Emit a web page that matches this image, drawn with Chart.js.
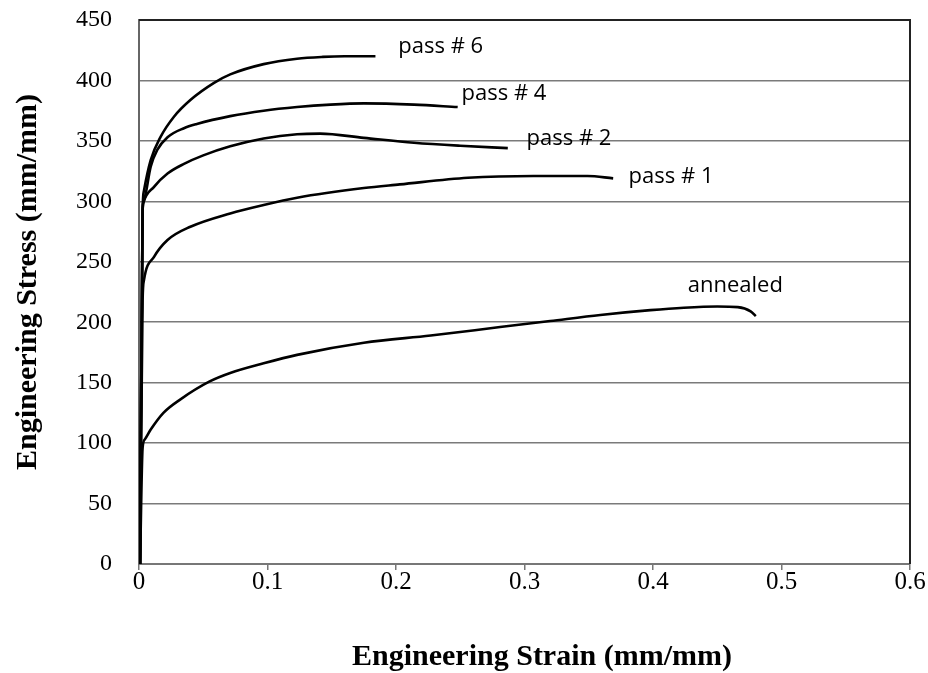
<!DOCTYPE html>
<html>
<head>
<meta charset="utf-8">
<script src="https://cdn.jsdelivr.net/npm/chart.js@4/dist/chart.umd.min.js"></script>
<style>
  html, body { margin: 0; padding: 0; background: #fff; }
  #wrap { width: 928px; height: 673px; }
</style>
</head>
<body>
<div id="wrap"><canvas id="chart"></canvas></div>
<script>
// strain (mm/mm) and stress values
const annealedStrain = [0.0008, 0.0028, 0.0045, 0.009, 0.019, 0.032, 0.055, 0.071, 0.097, 0.123, 0.175, 0.227, 0.281, 0.320, 0.359, 0.398, 0.424, 0.450, 0.466, 0.476, 0.480];
const annealedStress = [0, 96, 103, 111, 125, 136, 151, 158, 166, 173, 183, 189, 196, 201, 206, 210, 212, 213, 212.5, 209, 205];

const pass1Strain = [0.0008, 0.0028, 0.0039, 0.0117, 0.0222, 0.040, 0.071, 0.097, 0.123, 0.175, 0.203, 0.256, 0.307, 0.349, 0.369];
const pass1Stress = [0, 218, 235, 254, 268, 279, 290, 297, 303, 311, 314, 319.5, 321, 321, 319];

const pass2Strain = [0.0008, 0.0028, 0.0033, 0.0117, 0.0222, 0.035, 0.050, 0.071, 0.097, 0.123, 0.141, 0.175, 0.214, 0.250, 0.287];
const pass2Stress = [0, 292, 298.6, 312, 323, 331, 338, 345.5, 352, 355.5, 356, 352.5, 348.5, 346, 344];

const pass4Strain = [0.0008, 0.0028, 0.0039, 0.0091, 0.0142, 0.0222, 0.035, 0.045, 0.071, 0.097, 0.123, 0.149, 0.175, 0.214, 0.248];
const pass4Stress = [0, 292, 301, 328.6, 342.5, 353, 360.5, 364, 370.5, 375, 378, 380, 381, 380, 378];

const pass6Strain = [0.0008, 0.0028, 0.0039, 0.0091, 0.0169, 0.0272, 0.0402, 0.0584, 0.071, 0.097, 0.123, 0.143, 0.160, 0.184];
const pass6Stress = [0, 292, 309, 334, 353.5, 370, 384, 398, 405, 413.5, 418, 419.5, 420, 420];

const seriesNames = ['annealed', 'pass # 1', 'pass # 2', 'pass # 4', 'pass # 6'];
// where each curve's name is written (strain, stress at the text's left middle)
const labelStrain = [0.427, 0.381, 0.3016, 0.251, 0.2018];
const labelStress = [230, 320, 352, 389, 428];

const xTicks = [0, 0.1, 0.2, 0.3, 0.4, 0.5, 0.6];
const yTicks = [0, 50, 100, 150, 200, 250, 300, 350, 400, 450];

const toPoints = (xs, ys) => xs.map((x, i) => ({ x: x, y: ys[i] }));
const allStrain = [annealedStrain, pass1Strain, pass2Strain, pass4Strain, pass6Strain];
const allStress = [annealedStress, pass1Stress, pass2Stress, pass4Stress, pass6Stress];

const datasets = seriesNames.map((name, i) => ({
    label: name,
    data: toPoints(allStrain[i], allStress[i]),
    showLine: true,
    borderColor: '#000',
    borderWidth: 2.6,
    pointRadius: 0,
    cubicInterpolationMode: 'monotone',
    fill: false
}));

const curveLabels = {
    id: 'curveLabels',
    afterDatasetsDraw(chart) {
        const { ctx, scales: { x, y } } = chart;
        ctx.save();
        ctx.fillStyle = '#000';
        ctx.font = '22px "Open Sans", sans-serif';
        ctx.textBaseline = 'middle';
        ctx.textAlign = 'left';
        seriesNames.forEach((name, i) => {
            ctx.fillText(name, x.getPixelForValue(labelStrain[i]), y.getPixelForValue(labelStress[i]));
        });
        ctx.restore();
    }
};

const frame = {
    id: 'frame',
    afterDraw(chart) {
        const { ctx, chartArea: a } = chart;
        ctx.save();
        ctx.strokeStyle = '#222';
        ctx.lineWidth = 2;
        ctx.beginPath();
        ctx.moveTo(a.left, a.top);
        ctx.lineTo(a.right, a.top);
        ctx.lineTo(a.right, a.bottom);
        ctx.stroke();
        // axis titles
        ctx.fillStyle = '#000';
        ctx.font = 'bold 30px "Liberation Serif", "Times New Roman", serif';
        ctx.textAlign = 'center';
        ctx.textBaseline = 'middle';
        ctx.fillText('Engineering Strain (mm/mm)', 542, 657);
        ctx.translate(28, 282);
        ctx.rotate(-Math.PI / 2);
        ctx.fillText('Engineering Stress (mm/mm)', 0, 0);
        ctx.restore();
    }
};

new Chart(document.getElementById('chart'), {
    type: 'scatter',
    data: { datasets: datasets },
    options: {
        responsive: true,
        maintainAspectRatio: false,
        animation: false,
        layout: { padding: { left: 0, right: 18, top: 20, bottom: 0 } },
        plugins: {
            legend: { display: false },
            tooltip: { enabled: false }
        },
        scales: {
            x: {
                type: 'linear',
                min: 0,
                max: 0.6,
                afterBuildTicks: (s) => { s.ticks = xTicks.map(v => ({ value: v })); },
                afterFit: (s) => { s.height = 109; s.paddingLeft = 0; s.paddingRight = 0; },
                grid: { display: true, drawOnChartArea: false, drawTicks: true, tickLength: 6, color: '#777', lineWidth: 1.5 },
                border: { display: true, color: '#777', width: 2 },
                ticks: {
                    padding: 0,
                    color: '#000',
                    font: { family: '"Liberation Serif", "Times New Roman", serif', size: 25, lineHeight: 1 },
                    callback: (v) => String(v)
                }
            },
            y: {
                type: 'linear',
                min: 0,
                max: 450,
                afterBuildTicks: (s) => { s.ticks = yTicks.map(v => ({ value: v })); },
                afterFit: (s) => { s.width = 139; s.paddingTop = 0; s.paddingBottom = 0; },
                grid: { display: true, drawTicks: false, color: '#7a7a7a', lineWidth: 1.5 },
                border: { display: true, color: '#666', width: 2 },
                ticks: {
                    padding: 27,
                    color: '#000',
                    font: { family: '"Liberation Serif", "Times New Roman", serif', size: 24 }
                }
            }
        }
    },
    plugins: [curveLabels, frame]
});
</script>
</body>
</html>
